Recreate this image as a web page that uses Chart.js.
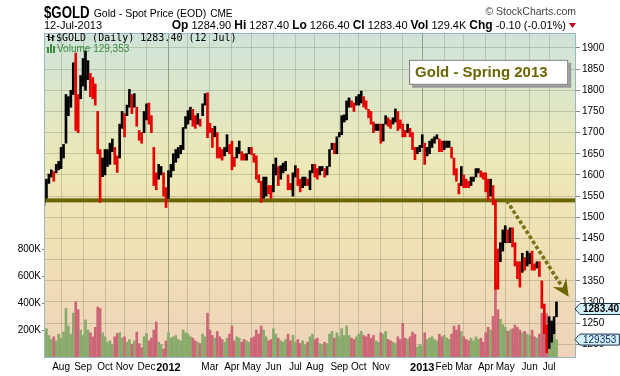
<!DOCTYPE html>
<html>
<head>
<meta charset="utf-8">
<script src="https://cdn.jsdelivr.net/npm/chart.js@4.4.1/dist/chart.umd.min.js"></script>
<style>
  html, body { margin: 0; padding: 0; background: #fff; }
  canvas { display: block; }
</style>
</head>
<body>
<canvas id="myChart" width="620" height="376"></canvas>
<script>
// half-week periods, from 7-Jul-2011 to 12-Jul-2013
const priceLow = [
  1528,1545,1580,1595,1585,1605,1612,1615,1640,1675,1740,1760,1790,1705,1700,1780,1810,1800,1825,1785,
  1780,1765,1650,1535,1596,1600,1620,1625,1655,1625,1606,1640,1710,1690,1740,1760,1745,1760,1715,1682,
  1675,1700,1730,1720,1700,1575,1565,1590,1600,1550,1523,1545,1595,1610,1630,1640,1650,1660,1710,1720,
  1730,1715,1710,1720,1715,1740,1765,1688,1700,1665,1690,1640,1640,1635,1645,1655,1650,1612,1620,1640,
  1650,1635,1635,1635,1650,1648,1630,1590,1582,1535,1545,1550,1555,1545,1560,1600,1575,1590,1605,1610,
  1565,1565,1550,1595,1575,1560,1570,1575,1575,1565,1605,1595,1590,1600,1610,1595,1600,1620,1660,1650,
  1650,1690,1695,1725,1730,1760,1760,1750,1765,1765,1770,1760,1755,1735,1720,1700,1705,1705,1675,1680,
  1720,1715,1710,1720,1725,1705,1710,1690,1690,1700,1690,1660,1636,1650,1655,1665,1625,1645,1650,1665,
  1675,1685,1655,1655,1660,1665,1665,1640,1600,1585,1555,1575,1570,1570,1570,1575,1585,1595,1605,1595,
  1590,1560,1540,1550,1530,1330,1330,1395,1420,1440,1440,1440,1430,1385,1355,1335,1370,1375,1385,1390,
  1375,1375,1380,1360,1285,1225,1180,1190,1205,1225,1265
];
const priceHigh = [
  1545,1590,1602,1612,1608,1625,1632,1665,1672,1790,1785,1800,1865,1888,1790,1835,1875,1893,1870,1840,
  1830,1815,1750,1660,1640,1660,1660,1675,1685,1665,1645,1720,1750,1745,1765,1802,1790,1792,1760,1705,
  1700,1750,1768,1770,1740,1665,1605,1625,1620,1605,1570,1610,1625,1650,1660,1665,1670,1712,1738,1752,
  1760,1755,1740,1745,1732,1768,1792,1794,1722,1710,1715,1700,1665,1660,1665,1695,1672,1680,1642,1665,
  1680,1655,1650,1650,1665,1665,1650,1645,1600,1585,1595,1595,1575,1575,1625,1640,1620,1622,1628,1632,
  1600,1580,1605,1622,1615,1590,1595,1595,1590,1610,1625,1625,1615,1620,1620,1615,1620,1660,1675,1675,
  1690,1700,1740,1742,1775,1782,1775,1770,1785,1790,1798,1785,1775,1755,1750,1725,1720,1720,1720,1720,
  1740,1735,1730,1735,1756,1750,1730,1720,1705,1720,1710,1700,1665,1665,1670,1695,1675,1665,1680,1685,
  1690,1695,1685,1680,1680,1680,1680,1665,1640,1615,1580,1620,1600,1590,1585,1595,1595,1615,1615,1610,
  1605,1605,1590,1590,1575,1540,1425,1440,1470,1480,1470,1475,1475,1440,1395,1395,1415,1405,1420,1415,
  1420,1390,1395,1395,1350,1295,1245,1265,1255,1265,1300
];
// volume in thousands
const volumeK = [
  180,210,160,130,150,120,170,140,185,360,230,170,325,410,350,200,160,275,200,180,
  150,220,370,360,180,150,110,120,90,150,175,180,140,150,110,130,95,120,185,100,
  70,150,175,120,140,200,260,110,90,60,120,180,140,150,160,130,120,200,180,170,
  150,140,120,110,100,170,150,325,200,160,140,190,150,130,110,140,170,230,120,150,
  140,110,130,120,110,140,150,200,170,230,200,150,120,130,210,170,140,120,110,130,
  170,120,160,110,130,100,120,90,110,150,170,130,140,100,90,110,100,170,190,140,
  180,150,210,160,230,160,140,130,150,170,190,160,150,170,140,160,120,110,180,170,
  190,130,120,110,100,150,130,250,140,130,150,185,170,75,90,80,180,130,140,150,
  130,120,170,150,160,140,130,170,230,200,237,190,150,130,120,140,120,150,130,140,
  110,180,220,200,300,550,350,280,240,220,190,200,210,237,220,200,180,190,170,160,
  200,150,140,170,325,300,320,250,200,220,129.353
];
const monthIdx = [7,16,25,33,42,51,59,68,77,85,94,103,111,121,129,138,147,155,164,172,181,189,199,207];
const monthLbl = ['Aug','Sep','Oct','Nov','Dec','2012','','Mar','Apr','May','Jun','Jul',
                  'Aug','Sep','Oct','Nov','','2013','Feb','Mar','Apr','May','Jun','Jul'];
const priceTicks = [1200,1250,1300,1350,1400,1450,1500,1550,1600,1650,1700,1750,1800,1850,1900];
const volTicks = [200000,400000,600000,800000];
const statsParts = [['Op',1],[' 1284.90 ',0],['Hi',1],[' 1287.40 ',0],['Lo',1],[' 1266.40 ',0],
                    ['Cl',1],[' 1283.40 ',0],['Vol',1],[' 129.4K ',0],['Chg',1],[' -0.10 (-0.01%)',0]];
const supportLevel = 1540;
const lastClose = 1283.40;
const lastVolume = 129353;

const FONT = "'Liberation Sans', Arial, sans-serif";
const OLIVE = '#6b6600';
const slots = Array.from({ length: 219 }, (_, i) => i);

const isDown = priceLow.map((l, i) => i > 0 && (l + priceHigh[i]) < (priceLow[i - 1] + priceHigh[i - 1]));

// fond dégradé de la zone de tracé
const bgPlugin = {
    id: 'bg',
    beforeDraw(chart) {
        const { ctx, chartArea: a } = chart;
        const g = ctx.createLinearGradient(0, a.top, 0, a.bottom);
        g.addColorStop(0, 'rgb(206,228,218)');
        g.addColorStop(0.4, 'rgb(237,232,182)');
        g.addColorStop(0.7, 'rgb(240,223,180)');
        g.addColorStop(1, 'rgb(238,211,186)');
        ctx.save();
        ctx.fillStyle = g;
        ctx.fillRect(a.left, a.top, a.right - a.left, a.bottom - a.top);
        ctx.restore();
    },
    beforeDatasetsDraw(chart) {
        const { ctx, chartArea: a } = chart;
        const y = chart.scales.yP.getPixelForValue(supportLevel);
        ctx.save();
        ctx.fillStyle = OLIVE;
        ctx.fillRect(a.left, y - 2, a.right - a.left, 4);
        ctx.restore();
    }
};

function tagBox(ctx, x, cy, text, bold) {
    ctx.font = (bold ? 'bold ' : '') + '10px ' + FONT;
    const w = ctx.measureText(text).width + 6;
    ctx.beginPath();
    ctx.moveTo(x, cy);
    ctx.lineTo(x + 5, cy - 5.5);
    ctx.lineTo(x + 5 + w, cy - 5.5);
    ctx.lineTo(x + 5 + w, cy + 5.5);
    ctx.lineTo(x + 5, cy + 5.5);
    ctx.closePath();
    ctx.fillStyle = '#d2f3fc';
    ctx.fill();
    ctx.strokeStyle = '#18304a';
    ctx.lineWidth = 1;
    ctx.stroke();
    ctx.fillStyle = bold ? '#000' : '#1a2a6a';
    ctx.textBaseline = 'middle';
    ctx.textAlign = 'left';
    ctx.fillText(text, x + 8, cy + 0.5);
}

const overlayPlugin = {
    id: 'overlay',
    afterDraw(chart) {
        const { ctx, chartArea: a } = chart;
        const xs = chart.scales.x, yP = chart.scales.yP, yV = chart.scales.yV;
        ctx.save();

        // cadre
        ctx.strokeStyle = '#9ab6c2';
        ctx.lineWidth = 1;
        ctx.strokeRect(a.left + 0.5, a.top + 0.5, a.right - a.left - 1, a.bottom - a.top - 1);

        // flèche pointillée
        const x0 = xs.getPixelForValue(190), y0 = yP.getPixelForValue(1536);
        const x1 = xs.getPixelForValue(215), y1 = yP.getPixelForValue(1312);
        const dx = x1 - x0, dy = y1 - y0, len = Math.hypot(dx, dy);
        const ux = dx / len, uy = dy / len, ang = Math.atan2(dy, dx);
        ctx.fillStyle = '#767218';
        for (let d = 0; d < len - 15; d += 6) {
            ctx.save();
            ctx.translate(x0 + ux * d, y0 + uy * d);
            ctx.rotate(ang);
            ctx.fillRect(-1.8, -1.8, 3.6, 3.6);
            ctx.restore();
        }
        const nx = -uy, ny = ux;
        const bx = x1 - ux * 17, by = y1 - uy * 17;
        ctx.fillStyle = OLIVE;
        ctx.beginPath();
        ctx.moveTo(x1, y1);
        ctx.lineTo(bx + nx * 8, by + ny * 8);
        ctx.lineTo(x1 - ux * 11, y1 - uy * 11);
        ctx.lineTo(bx - nx * 8, by - ny * 8);
        ctx.closePath();
        ctx.fill();

        // encadré de titre
        const bl = xs.getPixelForValue(149.6), br = xs.getPixelForValue(214.8);
        const bt = yP.getPixelForValue(1872), bb = yP.getPixelForValue(1813);
        ctx.fillStyle = '#9a9a9a';
        ctx.fillRect(bl + 3, bt + 3, br - bl, bb - bt);
        ctx.fillStyle = '#fff';
        ctx.fillRect(bl, bt, br - bl, bb - bt);
        ctx.strokeStyle = '#7a7a7a';
        ctx.strokeRect(bl + 0.5, bt + 0.5, br - bl - 1, bb - bt - 1);
        ctx.fillStyle = OLIVE;
        ctx.font = 'bold 15px ' + FONT;
        ctx.textBaseline = 'middle';
        ctx.fillText('Gold - Spring 2013', bl + 6, (bt + bb) / 2 + 1);

        // légende
        ctx.fillStyle = '#000';
        ctx.fillRect(a.left + 4, a.top + 1, 1.5, 7);
        ctx.fillRect(a.left + 2.5, a.top + 3, 1.5, 1);
        ctx.fillRect(a.left + 5, a.top + 6, 1.5, 1);
        ctx.fillRect(a.left + 8, a.top + 2, 1.5, 6);
        ctx.fillRect(a.left + 6.5, a.top + 4, 1.5, 1);
        ctx.fillRect(a.left + 9, a.top + 3, 1.5, 1);
        ctx.font = "10px 'DejaVu Sans Mono', monospace";
        ctx.textBaseline = 'alphabetic';
        ctx.fillText('$GOLD (Daily) 1283.40 (12 Jul)', a.left + 12, a.top + 8);
        ctx.fillStyle = '#3c8a3c';
        ctx.fillRect(a.left + 3, a.top + 14, 2, 6);
        ctx.fillRect(a.left + 6, a.top + 11, 2, 9);
        ctx.fillRect(a.left + 9, a.top + 13, 2, 7);
        ctx.font = '10px ' + FONT;
        ctx.fillText('Volume 129,353', a.left + 13, a.top + 19);

        // étiquettes de dernière valeur
        tagBox(ctx, a.right - 1, yP.getPixelForValue(lastClose), lastClose.toFixed(2), true);
        tagBox(ctx, a.right - 1, yV.getPixelForValue(lastVolume), String(lastVolume), false);

        // en-tête
        ctx.fillStyle = '#000';
        ctx.textBaseline = 'alphabetic';
        ctx.save();
        ctx.translate(a.left, 18);
        ctx.scale(0.78, 1);
        ctx.font = 'bold 17px ' + FONT;
        ctx.fillText('$GOLD', 0, 0);
        const symW = ctx.measureText('$GOLD').width * 0.78;
        ctx.restore();
        ctx.font = '10.5px ' + FONT;
        ctx.fillText('Gold - Spot Price (EOD)', a.left + symW + 4, 17);
        const subW = ctx.measureText('Gold - Spot Price (EOD)').width;
        ctx.font = '10px ' + FONT;
        ctx.fillText('CME', a.left + symW + 8 + subW, 17);
        ctx.fillStyle = '#444';
        ctx.font = '10.5px ' + FONT;
        ctx.textAlign = 'right';
        ctx.fillText('\u00A9 StockCharts.com', a.right, 15);
        ctx.textAlign = 'left';
        ctx.fillStyle = '#000';
        ctx.font = '11px ' + FONT;
        ctx.fillText('12-Jul-2013', a.left, 29);
        let total = 0;
        statsParts.forEach(p => {
            ctx.font = (p[1] ? 'bold 12px ' : '11px ') + FONT;
            total += ctx.measureText(p[0]).width;
        });
        let sx = a.right - 10 - total;
        statsParts.forEach(p => {
            ctx.font = (p[1] ? 'bold 12px ' : '11px ') + FONT;
            ctx.fillText(p[0], sx, 29);
            sx += ctx.measureText(p[0]).width;
        });
        ctx.fillStyle = '#c00018';
        ctx.beginPath();
        ctx.moveTo(a.right - 7, 23);
        ctx.lineTo(a.right, 23);
        ctx.lineTo(a.right - 3.5, 28);
        ctx.closePath();
        ctx.fill();

        ctx.restore();
    }
};

const ctx = document.getElementById('myChart').getContext('2d');
const myChart = new Chart(ctx, {
    type: 'bar',
    data: {
        labels: slots,
        datasets: [{
            label: 'GOLD',
            data: priceLow.map((l, i) => [l, priceHigh[i]]),
            yAxisID: 'yP',
            backgroundColor: isDown.map(d => d ? '#e60000' : '#000'),
            barThickness: 2,
            grouped: false,
            order: 0
        }, {
            label: 'Volume',
            data: volumeK.map(v => v * 1000),
            yAxisID: 'yV',
            backgroundColor: isDown.map(d => d ? '#cc6677' : '#88aa6a'),
            barThickness: 2,
            grouped: false,
            order: 1
        }]
    },
    options: {
        responsive: false,
        animation: false,
        layout: { padding: { top: 33, left: 0, right: 0, bottom: 0 } },
        plugins: { legend: { display: false }, tooltip: { enabled: false } },
        scales: {
            x: {
                type: 'category',
                offset: false,
                grid: {
                    offset: false,
                    drawTicks: false,
                    color: c => (c.index === 5 || c.index === 17) ? 'rgba(95,105,75,0.55)' : 'rgba(110,120,90,0.3)'
                },
                border: { display: false },
                ticks: {
                    autoSkip: false,
                    maxRotation: 0,
                    padding: 3,
                    color: '#000',
                    font: c => (c.index === 5 || c.index === 17)
                        ? { family: FONT, size: 11, weight: 'bold' }
                        : { family: FONT, size: 10 },
                    callback: (v, i) => monthLbl[i]
                },
                afterBuildTicks: s => { s.ticks = monthIdx.map(v => ({ value: v })); },
                afterFit: s => { s.height = 18; }
            },
            yP: {
                type: 'linear',
                position: 'right',
                min: 1167.6,
                max: 1935.3,
                grid: { color: 'rgba(110,120,90,0.3)', tickLength: 4, tickColor: '#888' },
                border: { display: false },
                ticks: {
                    padding: 2, color: '#000', font: { family: FONT, size: 10 },
                    callback: v => String(v)
                },
                afterBuildTicks: s => { s.ticks = priceTicks.map(v => ({ value: v })); },
                afterFit: s => { s.width = 44; }
            },
            yV: {
                type: 'linear',
                position: 'left',
                min: -7000,
                max: 2400000,
                grid: { drawOnChartArea: false, tickLength: 2, tickColor: '#888' },
                border: { display: false },
                ticks: {
                    padding: 1, color: '#000', font: { family: FONT, size: 10 },
                    callback: v => (v / 1000) + 'K'
                },
                afterBuildTicks: s => { s.ticks = volTicks.map(v => ({ value: v })); },
                afterFit: s => { s.width = 44; }
            }
        }
    },
    plugins: [bgPlugin, overlayPlugin]
});
</script>
</body>
</html>
